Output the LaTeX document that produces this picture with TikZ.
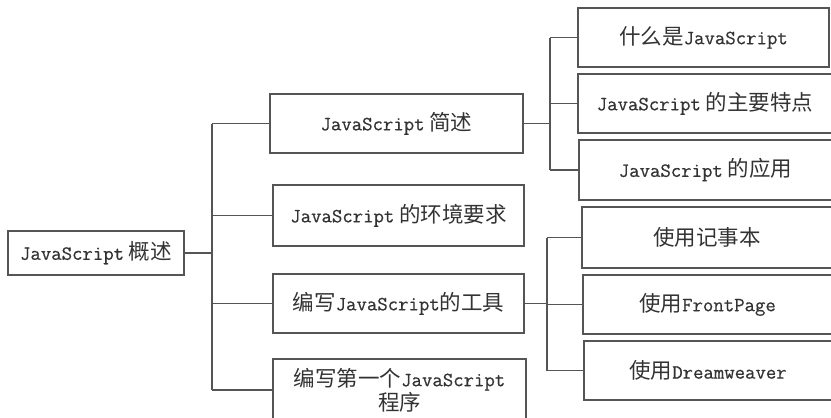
\documentclass[tikz,border=0pt]{standalone}
\usepackage{fontspec}
\setmainfont{Noto Sans CJK SC}
\newfontfamily\jtfont[FakeBold=0.6]{Latin Modern Mono}
\newcommand\jt[1]{{\jtfont\fontsize{20.2}{25}\selectfont #1}}
\definecolor{linegray}{HTML}{555555}
\definecolor{textgray}{HTML}{333333}
\begin{document}
\begin{tikzpicture}[x=1pt,y=-1pt,
  box/.style={draw=linegray, line width=1.3pt, inner sep=0pt, align=center,
    text=textgray, font=\fontsize{21.5}{25}\selectfont},
  link/.style={draw=linegray, line width=1.3pt}]
\useasboundingbox (0,0) rectangle (831,418);
\begin{scope}
\clip (0,0) rectangle (831,418);
\node[box, minimum width=176, minimum height=44] (root) at (96,253) {\jt{JavaScript} 概述};
\node[box, minimum width=253, minimum height=59] (A) at (396.5,123.5) {\jt{JavaScript} 简述};
\node[box, minimum width=251, minimum height=61] (B) at (398.5,215.5) {\jt{JavaScript} 的环境要求};
\node[box, minimum width=251, minimum height=59] (C) at (398.5,303.5) {编写\jt{JavaScript}的工具};
\node[box, minimum width=253, minimum height=62] (D) at (399.5,390) {编写第一个\jt{JavaScript}\\[-1pt]程序};
\node[box, minimum width=251, minimum height=59] (A1) at (703.5,37.5) {什么是\jt{JavaScript}};
\node[box, minimum width=254, minimum height=59] (A2) at (705,103.5) {\jt{JavaScript} 的主要特点};
\node[box, minimum width=253, minimum height=60] (A3) at (705.5,170) {\jt{JavaScript} 的应用};
\node[box, minimum width=250, minimum height=61] (C1) at (707,237.5) {使用记事本};
\node[box, minimum width=249, minimum height=59] (C2) at (707.5,304.5) {使用\jt{FrontPage}};
\node[box, minimum width=248, minimum height=59] (C3) at (708,370.5) {使用\jt{Dreamweaver}};
\coordinate (t) at (212,0);
\coordinate (u) at (550,0);
\coordinate (v) at (547,0);
\draw[link] (root.east) -- (root.east -| t);
\draw[link] (t |- A.west) -- (t |- D.west);
\foreach \n in {A,B,C,D} \draw[link] (t |- \n.west) -- (\n.west);
\draw[link] (A.east) -- (A.east -| u);
\draw[link] (u |- A1.west) -- (u |- A3.west);
\foreach \n in {A1,A2,A3} \draw[link] (u |- \n.west) -- (\n.west);
\draw[link] (C.east) -- (C.east -| v);
\draw[link] (v |- C1.west) -- (v |- C3.west);
\foreach \n in {C1,C2,C3} \draw[link] (v |- \n.west) -- (\n.west);
\end{scope}
\end{tikzpicture}
\end{document}
